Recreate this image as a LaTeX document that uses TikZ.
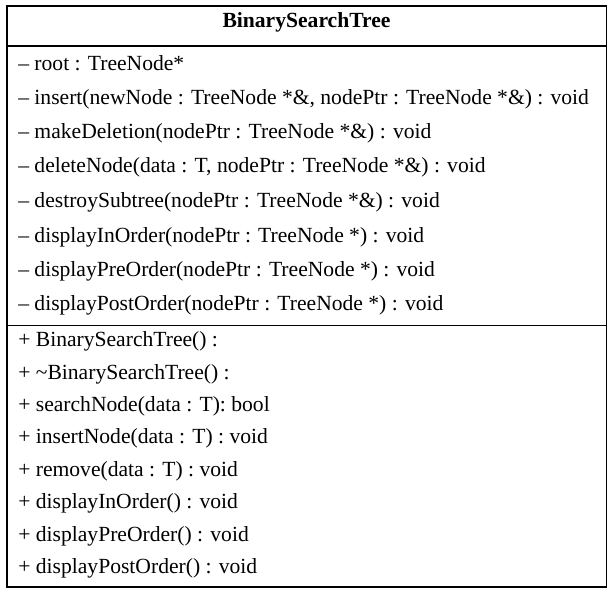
\documentclass[tikz,border=0pt]{standalone}
\usepackage{fontspec}
\setmainfont{Liberation Serif}
\begin{document}
\begin{tikzpicture}[x=0.75pt,y=-0.75pt,
  line/.style={draw=black,line width=0.9pt},
  item/.style={anchor=base west,inner sep=0pt,font=\fontsize{16.2}{19}\selectfont},
  title/.style={anchor=base,inner sep=0pt,font=\fontsize{16.2}{19}\selectfont\bfseries}]
\useasboundingbox (0,0) rectangle (616,595);
\coordinate (tl) at (7,6);
\coordinate (br) at (606.5,587);
\draw[line] (tl) rectangle (br);
\coordinate (d1l) at (7,46); \coordinate (d1r) at (606.5,46);
\coordinate (d2l) at (7,325.5); \coordinate (d2r) at (606.5,325.5);
\draw[line] (d1l) -- (d1r);
\draw[line] (d2l) -- (d2r);
\node[title] (t) at (306.5,28) {BinarySearchTree};
\node[item] (a1) at (18,71) {– root : TreeNode*};
\node[item] (a2) at (18,105) {– insert(newNode : TreeNode *\&, nodePtr : TreeNode *\&) : void};
\node[item] (a3) at (18,139) {– makeDeletion(nodePtr : TreeNode *\&) : void};
\node[item] (a4) at (18,173) {– deleteNode(data : T, nodePtr : TreeNode *\&) : void};
\node[item] (a5) at (18,207) {– destroySubtree(nodePtr : TreeNode *\&) : void};
\node[item] (a6) at (18,242) {– displayInOrder(nodePtr : TreeNode *) : void};
\node[item] (a7) at (18,276) {– displayPreOrder(nodePtr : TreeNode *) : void};
\node[item] (a8) at (18,310) {– displayPostOrder(nodePtr : TreeNode *) : void};
\node[item] (o1) at (18,346) {+ BinarySearchTree() :};
\node[item] (o2) at (18,379) {+ \char"007E BinarySearchTree() :};
\node[item] (o3) at (18,411) {+ searchNode(data : T): bool};
\node[item] (o4) at (18,443) {+ insertNode(data : T) : void};
\node[item] (o5) at (18,476) {+ remove(data : T) : void};
\node[item] (o6) at (18,508) {+ displayInOrder() : void};
\node[item] (o7) at (18,541) {+ displayPreOrder() : void};
\node[item] (o8) at (18,573) {+ displayPostOrder() : void};
\end{tikzpicture}
\end{document}
